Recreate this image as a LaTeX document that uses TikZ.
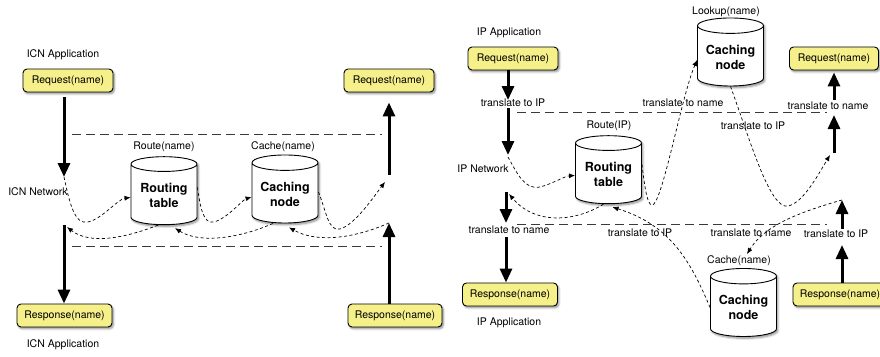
\documentclass[tikz,border=0pt]{standalone}
\usepackage{fontspec}
\setmainfont{TeX Gyre Heros}
\usetikzlibrary{arrows.meta,shapes.geometric,shadows.blur}
\definecolor{boxyellow}{HTML}{F6F08A}
\definecolor{rulegray}{HTML}{3A3A3A}

\begin{document}
\begin{tikzpicture}[x=1pt,y=-1pt,
  softshadow/.style={blur shadow={shadow xshift=1.4pt,shadow yshift=-1.8pt,
    shadow blur radius=2pt,shadow blur steps=6,shadow opacity=45}},
  msgbox/.style={draw=black,line width=0.9pt,fill=boxyellow,rounded corners=4pt,
    minimum height=23pt,inner xsep=3pt,font=\fontsize{10.5}{12}\selectfont,softshadow},
  store/.style={shape=cylinder,shape border rotate=90,aspect=0.3,draw=black,line width=0.9pt,
    fill=white,minimum width=66pt,minimum height=68pt,align=center,inner sep=1pt,
    font=\fontsize{12.5}{15}\selectfont\bfseries,softshadow},
  lbl/.style={font=\fontsize{10.5}{12}\selectfont,inner sep=1pt},
  flowline/.style={line width=3pt,-{Triangle[width=12pt,length=14pt]}},
  layer/.style={draw=rulegray,line width=1pt,dash pattern=on 9pt off 5pt},
  hop/.style={line width=0.7pt,dash pattern=on 3pt off 2.5pt,-{Latex[length=6pt,width=5pt]}},
]
\useasboundingbox (0,0) rectangle (880,356);

% ---------------- ICN side ----------------
\node[msgbox,minimum width=90pt] (lreq)  at (68,80.5)  {Request(name)};
\node[msgbox,minimum width=90pt] (rreq)  at (389,80.5) {Request(name)};
\node[msgbox,minimum width=95pt] (lresp) at (64.5,315.5) {Response(name)};
\node[msgbox,minimum width=94pt] (rresp) at (395,315.5) {Response(name)};

\node[store] (rt1) at (164,195.5) {Routing\\table};
\node[store] (cn1) at (285,194)   {Caching\\node};

\node[lbl] (appa) at (63,55)  {ICN Application};
\node[lbl] (appb) at (63,345) {ICN Application};
\node[lbl] (netl) at (38,192) {ICN Network};
\node[lbl] (rtl)  at (164,147) {Route(name)};
\node[lbl] (cnl)  at (283,147) {Cache(name)};

\coordinate (lin)   at (64,177);
\coordinate (lout)  at (64,225);
\coordinate (rin)   at (389,223);
\coordinate (rout)  at (389,175);
\coordinate (rtip)  at (385,182);
\coordinate (lback) at (67,227);

\draw[flowline] ([yshift=-5pt]lreq.south -| lin) -- (lin);
\draw[flowline] (lout) -- (lresp.north -| lout);
\draw[flowline] (rresp.north -| rin) -- (rin);
\draw[flowline] (rout) -- ([yshift=-10pt]rreq.south -| rout);

\coordinate (lua) at (72,134);  \coordinate (lub) at (382,134);
\coordinate (lla) at (72,246);  \coordinate (llb) at (382,246);
\draw[layer] (lua) -- (lub);
\draw[layer] (lla) -- (llb);

\draw[hop] (lin) .. controls (70,205) and (75,225) .. (88,222)
  .. controls (102,219) and (118,199) .. ([yshift=-2pt]rt1.west);
\draw[hop] ([yshift=8pt]rt1.east) .. controls (200,205) and (203,225) .. (214,222)
  .. controls (228,218) and (242,200) .. ([yshift=-3pt]cn1.west);
\draw[hop] ([yshift=2pt]cn1.east) .. controls (326,210) and (328,232) .. (340,229)
  .. controls (355,225) and (375,195) .. (rtip);
\draw[hop] (rin) .. controls (350,240) and (315,242) .. ([xshift=4pt,yshift=-4pt]cn1.south);
\draw[hop] ([xshift=-12pt]cn1.south) .. controls (240,238) and (200,244) .. ([xshift=11pt,yshift=-3pt]rt1.south);
\draw[hop] ([xshift=-6pt]rt1.south) .. controls (125,238) and (90,245) .. (lback);

% ---------------- IP side ----------------
\node[msgbox,minimum width=90pt] (rqa) at (513,58.5)  {Request(name)};
\node[msgbox,minimum width=89pt] (rqb) at (834,58.5)  {Request(name)};
\node[msgbox,minimum width=95pt] (rpa) at (510,294.5) {Response(name)};
\node[msgbox,minimum width=94pt] (rpb) at (840,294.5) {Response(name)};

\node[store] (cnt) at (730.5,57)  {Caching\\node};
\node[store] (rt2) at (608.5,174.5) {Routing\\table};
\node[store] (cnb) at (743.5,307.5) {Caching\\node};

\node[lbl] (ipa)  at (509,33)  {IP Application};
\node[lbl] (ipb)  at (509,323) {IP Application};
\node[lbl] (ipn)  at (483,169) {IP Network};
\node[lbl] (lkl)  at (726,12)  {Lookup(name)};
\node[lbl] (rt2l) at (609,126) {Route(IP)};
\node[lbl] (cnbl) at (739,261) {Cache(name)};

\node[lbl] (t1) at (513,103) {translate to IP};
\node[lbl] (t2) at (683,103) {translate to name};
\node[lbl] (t3) at (828,106) {translate to name};
\node[lbl] (t4) at (753,126) {translate to IP};
\node[lbl] (t5) at (509,230) {translate to name};
\node[lbl] (t6) at (640,233) {translate to IP};
\node[lbl] (t7) at (751,233) {translate to name};
\node[lbl] (t8) at (836,234) {translate to IP};

\coordinate (ipa1)  at (508,100);
\coordinate (ipa2)  at (508,108);
\coordinate (ipin)  at (508,155);
\coordinate (ipout) at (506,192);
\coordinate (ipb1)  at (506,223);
\coordinate (ipb2)  at (506,237);
\coordinate (ipc1)  at (834,100);
\coordinate (ipup)  at (834,153);
\coordinate (ipc2)  at (834,115);
\coordinate (ipd1)  at (842,229);
\coordinate (ipd2)  at (842,245);
\coordinate (ipin2) at (842,200);
\coordinate (cachein) at (747,254);

\draw[flowline] (rqa.south -| ipa1) -- (ipa1);
\draw[flowline] (ipa2) -- (ipin);
\draw[flowline] (ipout) -- (ipb1);
\draw[flowline] (ipb2) -- (rpa.north -| ipb2);
\draw[flowline] (ipc1) -- ([yshift=-2pt]rqb.south -| ipc1);
\draw[flowline] (ipup) -- (ipc2);
\draw[flowline] (rpb.north -| ipd2) -- (ipd2);
\draw[flowline] (ipd1) -- (ipin2);

\coordinate (iua) at (517,112);  \coordinate (iub) at (827,112);
\coordinate (ila) at (517,224);  \coordinate (ilb) at (827,224);
\draw[layer] (iua) -- (iub);
\draw[layer] (ila) -- (ilb);

\draw[hop] ([yshift=-2pt]ipin) .. controls (518,175) and (525,190) .. (540,187)
  .. controls (552,184) and (565,176) .. ([yshift=-1pt]rt2.west);
\draw[hop] ([yshift=10pt]rt2.east) .. controls (645,190) and (648,210) .. (654,204)
  .. controls (665,190) and (682,95) .. ([yshift=-3pt]cnt.west);
\draw[hop] (cnt.south) .. controls (750,140) and (770,210) .. (788,206)
  .. controls (803,203) and (818,175) .. ([xshift=-4pt,yshift=-2pt]ipup);
\draw[hop] (ipin2) .. controls (800,212) and (765,225) .. (cachein);
\draw[hop] (cnb.west) .. controls (690,260) and (670,225) .. ([xshift=4pt,yshift=-3pt]rt2.south);
\draw[hop] ([xshift=-5pt]rt2.south) .. controls (575,222) and (535,225) .. ([xshift=3pt,yshift=-2pt]ipout);
\end{tikzpicture}
\end{document}
